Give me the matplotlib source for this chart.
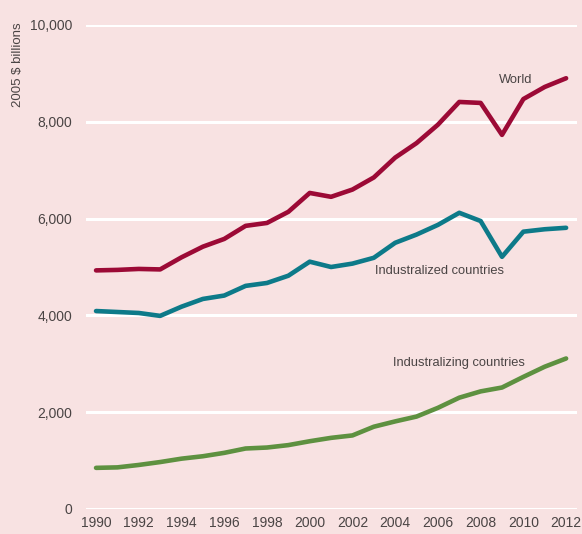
import matplotlib
matplotlib.use("Agg")
import matplotlib.pyplot as plt
from matplotlib.ticker import FuncFormatter

years = list(range(1990, 2013))
world = [4930, 4940, 4960, 4950, 5200, 5420, 5580, 5850, 5910, 6140, 6530, 6450,
         6600, 6850, 7260, 7560, 7940, 8410, 8390, 7730, 8470, 8720, 8900]
industrialized = [4090, 4070, 4050, 3990, 4180, 4340, 4410, 4610, 4670, 4820, 5110, 5000,
                  5070, 5190, 5500, 5670, 5870, 6120, 5950, 5210, 5730, 5780, 5810]
industrializing = [850, 860, 910, 970, 1040, 1090, 1160, 1250, 1270, 1320, 1400, 1470,
                   1520, 1700, 1810, 1910, 2090, 2300, 2430, 2510, 2730, 2940, 3110]
y_ticks = [0, 2000, 4000, 6000, 8000, 10000]
x_ticks = list(range(1990, 2013, 2))
y_label = "2005 $ billions"

bg = "#f8e2e2"
txt = "#4a4444"
plt.rcParams['font.family'] = ['Liberation Sans', 'DejaVu Sans']

fig = plt.figure(figsize=(5.82, 5.34), dpi=100, facecolor=bg)
ax = fig.add_axes([86/582, 25/534, 491/582, 484/534], facecolor=bg)

for y in y_ticks:
    ax.axhline(y, color="white", lw=2.2, zorder=1)

ax.plot(years, world, color="#9c0a36", lw=3.3, solid_capstyle="round", zorder=3)
ax.plot(years, industrialized, color="#0d7a89", lw=3.3, solid_capstyle="round", zorder=3)
ax.plot(years, industrializing, color="#5e9140", lw=3.3, solid_capstyle="round", zorder=3)

ax.set_xlim(1989.53, 2012.51)
ax.set_ylim(0, 10000)
ax.set_yticks(y_ticks)
ax.set_xticks(x_ticks)
ax.yaxis.set_major_formatter(FuncFormatter(lambda v, p: f"{int(v):,}"))
ax.tick_params(length=0, labelsize=10, labelcolor=txt)
ax.tick_params(axis="y", pad=10)
ax.tick_params(axis="x", pad=5)
for s in ax.spines.values():
    s.set_visible(False)
ax.grid(False)

fig.text(18/582, 1 - 22/534, y_label, rotation=90, ha="center", va="top",
         fontsize=9.5, color=txt)

ax.text(2008.87, 8865, "World", fontsize=9.3, color=txt, ha="left", va="center", zorder=4)
ax.text(2003.06, 4920, "Industralized countries", fontsize=9.3, color=txt, ha="left", va="center", zorder=4)
ax.text(2003.9, 3025, "Industralizing countries", fontsize=9.3, color=txt, ha="left", va="center", zorder=4)

fig.savefig("out.png", dpi=100, facecolor=bg)
